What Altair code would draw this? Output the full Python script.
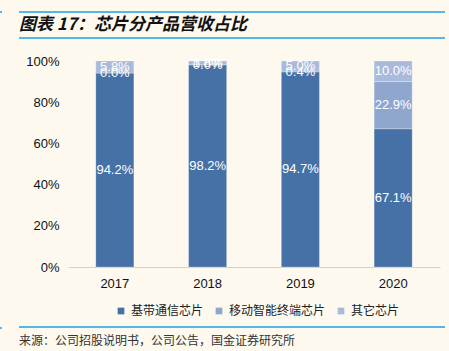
import altair as alt
import pandas as pd

years = ["2017", "2018", "2019", "2020"]
series = ["基带通信芯片", "移动智能终端芯片", "其它芯片"]
base_vals = [94.2, 98.2, 94.7, 67.1]
mobile_vals = [0.0, 0.0, 0.4, 22.9]
other_vals = [5.8, 1.8, 5.0, 10.0]
colors = ["#4671A6", "#8FA7CF", "#A9BADA"]
y_ticks = [0, 20, 40, 60, 80, 100]

rows = []
for i, y in enumerate(years):
    for k, (s, vals) in enumerate(zip(series, [base_vals, mobile_vals, other_vals])):
        rows.append({"year": y, "series": s, "value": vals[i], "order": k})
df = pd.DataFrame(rows)

FONT = "Liberation Sans"
CJK = "Noto Sans CJK SC"

x_enc = alt.X("year:N", title=None, sort=years,
              scale=alt.Scale(paddingInner=0.59, paddingOuter=0.3),
              axis=alt.Axis(labelAngle=0, labelFont=FONT, labelFontSize=13, labelColor="#111111",
                            labelPadding=10, ticks=False, domainColor="#CCD3E0", domainWidth=1))

base = alt.Chart(df).transform_stack(
    stack="value", groupby=["year"], as_=["y0", "y1"], sort=[alt.SortField("order")]
).transform_calculate(
    mid="(datum.y0 + datum.y1) / 2",
    label="format(datum.value, '.1f') + '%'"
)

bars = base.mark_bar(stroke="#FFFFFF", strokeWidth=0.4, strokeOpacity=0.6).encode(
    x=x_enc,
    y=alt.Y("y0:Q", title=None,
            scale=alt.Scale(domain=[0, 100], clamp=True, nice=False),
            axis=alt.Axis(values=y_ticks, labelExpr="datum.value + '%'", labelFont=FONT,
                          labelFontSize=13, labelColor="#111111", labelPadding=9,
                          domain=False, ticks=False, grid=False)),
    y2="y1:Q",
    color=alt.Color("series:N", sort=series,
                    scale=alt.Scale(domain=series, range=colors),
                    legend=alt.Legend(title=None, orient="none", direction="horizontal",
                                      legendX=47, legendY=244, symbolType="square",
                                      symbolSize=45, symbolStrokeWidth=0,
                                      labelFont=CJK, labelFontSize=12, labelColor="#222222",
                                      columnPadding=9, symbolOffset=0, labelOffset=4)),
    order=alt.Order("order:Q"),
)

labels = base.mark_text(color="white", font=FONT, fontSize=13, baseline="middle").encode(
    x=alt.X("year:N", sort=years),
    y=alt.Y("mid:Q"),
    text="label:N",
)

dummy = alt.Chart(pd.DataFrame({"a": [0]}))
lines = alt.layer(
    dummy.mark_rule(color="#1BA1E2", strokeWidth=1.5).encode(x=alt.value(-49), x2=alt.value(377), y=alt.value(-49)),
    dummy.mark_rule(color="#1BA1E2", strokeWidth=1.5).encode(x=alt.value(-49), x2=alt.value(377), y=alt.value(-23)),
    dummy.mark_rule(color="#1BA1E2", strokeWidth=1.5).encode(x=alt.value(-49), x2=alt.value(377), y=alt.value(266)),
    dummy.mark_rule(color="#1BA1E2", strokeWidth=1.5).encode(x=alt.value(-68), x2=alt.value(-66), y=alt.value(-49)),
    dummy.mark_rule(color="#1BA1E2", strokeWidth=1.5).encode(x=alt.value(-68), x2=alt.value(-66), y=alt.value(267)),
)

title = dummy.mark_text(text="图表 17：芯片分产品营收占比", font=CJK, fontSize=17, fontWeight="bold",
                        fontStyle="italic", align="left", baseline="middle", color="#111111").encode(
    x=alt.value(-49), y=alt.value(-36))
source = dummy.mark_text(text="来源：公司招股说明书，公司公告，国金证券研究所", font=CJK, fontSize=12,
                         align="left", baseline="middle", color="#333333").encode(
    x=alt.value(-49), y=alt.value(280))

chart = alt.layer(bars, labels, lines, title, source).properties(
    width=372, height=206,
    padding={"left": 68, "top": 61, "right": 9, "bottom": 84},
    autosize=alt.AutoSizeParams(type="none"),
    background="#FDF9EF",
).configure_view(stroke=None)

chart.save("out.html", embed_options={"renderer": "svg", "actions": False})
